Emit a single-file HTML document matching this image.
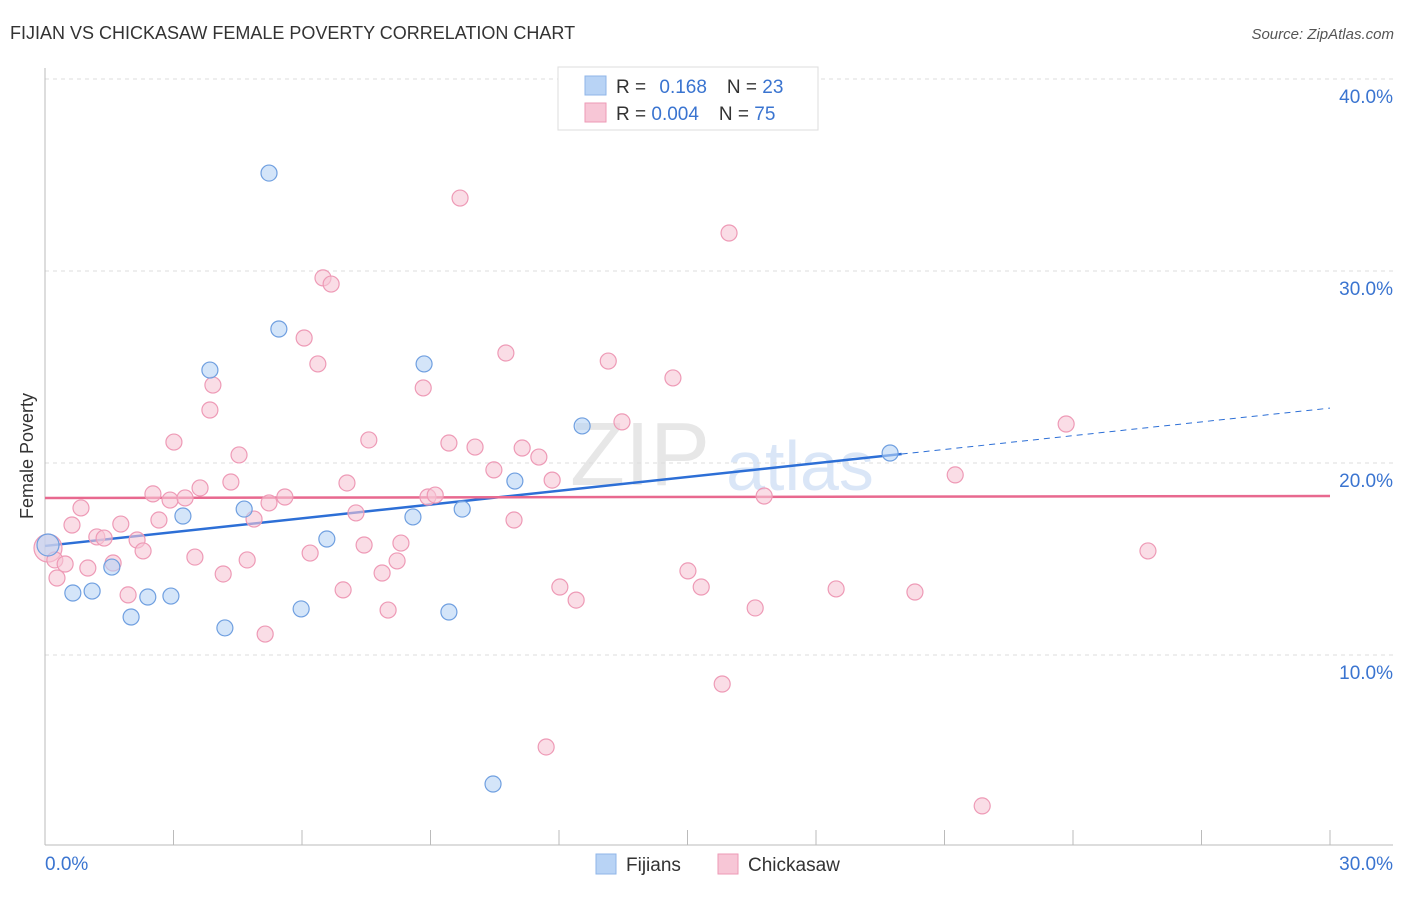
<!DOCTYPE html>
<html><head><meta charset="utf-8"><style>
body{margin:0;background:#fff;font-family:"Liberation Sans",sans-serif}
svg text{font-family:"Liberation Sans",sans-serif}
</style></head><body>
<svg id="chart" width="1406" height="892" xmlns="http://www.w3.org/2000/svg">
<text x="10" y="39" font-size="18" fill="#333">FIJIAN VS CHICKASAW FEMALE POVERTY CORRELATION CHART</text>
<text x="1394" y="39" font-size="15" fill="#555" text-anchor="end" font-style="italic">Source: ZipAtlas.com</text>
<text x="33" y="456" font-size="18" fill="#333" text-anchor="middle" transform="rotate(-90 33 456)">Female Poverty</text>
<text x="640" y="485" font-size="90" fill="#d8d8d8" font-family="Liberation Serif" opacity="0.6" text-anchor="middle">ZIP</text>
<text x="800" y="490" font-size="70" fill="#b7cff0" opacity="0.5" text-anchor="middle">atlas</text>
<g id="grid"></g><g id="axes"></g><g id="trends"></g><g id="pts"></g>
<g>
<rect x="558" y="67" width="260" height="63" fill="#fff" stroke="#ddd"/>
<rect x="585" y="76" width="21" height="19" fill="#b8d3f5" stroke="#8fb6e8"/>
<rect x="585" y="103" width="21" height="19" fill="#f7c6d6" stroke="#ee9ab6"/>
<text x="616" y="93" font-size="19" fill="#333">R = <tspan fill="#3a74d0" dx="8">0.168</tspan><tspan dx="20">N = </tspan><tspan fill="#3a74d0">23</tspan></text>
<text x="616" y="120" font-size="19" fill="#333">R = <tspan fill="#3a74d0">0.004</tspan><tspan dx="20">N = </tspan><tspan fill="#3a74d0">75</tspan></text>
</g>
<g>
<rect x="596" y="854" width="20" height="20" fill="#b8d3f5" stroke="#8fb6e8"/>
<text x="626" y="871" font-size="19" fill="#333">Fijians</text>
<rect x="718" y="854" width="20" height="20" fill="#f7c6d6" stroke="#ee9ab6"/>
<text x="748" y="871" font-size="19" fill="#333">Chickasaw</text>
</g>
</svg>
<script>
const yTicks=[10,20,30,40];
const yTickLabels=["10.0%","20.0%","30.0%","40.0%"];
const xTickLabels=["0.0%","30.0%"];
const fijX=[0.07,0.65,1.10,1.56,2.01,2.40,2.94,3.22,3.85,4.20,4.65,5.23,5.46,5.98,6.58,8.59,8.85,9.43,9.74,10.46,10.97,12.54,19.73];
const fijY=[15.73,13.23,13.33,14.58,11.98,13.02,13.07,17.24,24.84,11.41,17.60,35.10,26.98,12.40,16.04,17.19,25.16,12.24,17.60,3.28,19.06,21.93,20.52];
const chiX=[0.07,0.23,0.28,0.47,0.63,0.84,1.00,1.21,1.38,1.59,1.77,1.94,2.15,2.29,2.52,2.66,2.92,3.01,3.27,3.50,3.62,3.85,3.92,4.16,4.34,4.53,4.72,4.88,5.14,5.23,5.60,6.19,6.49,6.68,6.05,6.37,6.96,7.05,7.26,7.45,7.56,7.87,8.01,8.22,8.31,8.83,8.94,9.11,9.43,9.69,10.04,10.48,10.76,10.95,11.14,11.53,11.70,11.84,12.02,12.40,13.15,13.47,14.66,15.01,15.32,15.81,15.97,16.58,16.79,18.47,20.31,21.25,21.88,23.84,25.75];
const chiY=[15.57,14.95,14.01,14.74,16.77,17.66,14.53,16.15,16.09,14.79,16.82,13.13,15.99,15.42,18.39,17.03,18.07,21.09,18.18,15.10,18.70,22.76,24.06,14.22,19.01,20.42,14.95,17.08,11.09,17.92,18.23,15.31,29.64,29.32,26.51,25.16,13.39,18.96,17.40,15.73,21.20,14.27,12.34,14.90,15.83,23.91,18.23,18.33,21.04,33.80,20.83,19.64,25.73,17.03,20.78,20.31,5.21,19.11,13.54,12.86,25.31,22.14,24.43,14.38,13.54,8.49,31.98,12.45,18.28,13.44,13.28,19.38,2.14,22.03,15.42];
const fijTrend=[15.68,22.86]; // y at x=0 and x=30
const chiTrend=[18.18,18.28];
const fijSolidEnd=20;
const NS="http://www.w3.org/2000/svg";
const sx=v=>45+v/30*1285, sy=v=>847-v*19.2;
function mk(p,t,a){const e=document.createElementNS(NS,t);for(const k in a)e.setAttribute(k,a[k]);document.getElementById(p).appendChild(e);return e;}
yTicks.forEach((t,i)=>{
 const l=mk('grid','line',{x1:45,x2:1393,y1:sy(t),y2:sy(t),stroke:'#ddd','stroke-dasharray':'4,4'});
 
 
 const tx=mk('grid','text',{x:1393,y:sy(t)+24,'font-size':19,fill:'#3a74d0','text-anchor':'end'});
 tx.textContent=yTickLabels[i];
 
 
});
mk('axes','line',{x1:45,x2:45,y1:68,y2:845,stroke:'#bbb'});
mk('axes','line',{x1:45,x2:1393,y1:845,y2:845,stroke:'#bbb'});
for(let i=0;i<=10;i++){mk('axes','line',{x1:sx(i*3),x2:sx(i*3),y1:830,y2:845,stroke:'#bbb'});}
const xl0=mk('axes','text',{x:45,y:870,'font-size':19,fill:'#3a74d0'});xl0.textContent=xTickLabels[0];


const xl1=mk('axes','text',{x:1393,y:870,'font-size':19,fill:'#3a74d0','text-anchor':'end'});xl1.textContent=xTickLabels[1];


const fy=x=>fijTrend[0]+(fijTrend[1]-fijTrend[0])*x/30;
const t1=mk('trends','line',{x1:sx(0),y1:sy(fy(0)),x2:sx(fijSolidEnd),y2:sy(fy(fijSolidEnd)),stroke:'#2d6fd6','stroke-width':2.5});


const t2=mk('trends','line',{x1:sx(fijSolidEnd),y1:sy(fy(fijSolidEnd)),x2:sx(30),y2:sy(fy(30)),stroke:'#2d6fd6','stroke-width':1,'stroke-dasharray':'6,5'});


function dots(X,Y,fill,stroke,name){X.forEach((x,i)=>{
 const c=mk('pts','circle',{cx:sx(x),cy:sy(Y[i]),r:(i===0?(name==='chickasaw-point'?14:11):8),fill:fill,'fill-opacity':0.6,stroke:stroke,'stroke-width':1.2});
 
 
});}
dots(chiX,chiY,'#f7c6d6','#ee9ab6','chickasaw-point');
dots(fijX,fijY,'#b8d3f5','#6f9fe0','fijian-point');
const t3=mk('trends','line',{x1:sx(0),y1:sy(chiTrend[0]),x2:sx(30),y2:sy(chiTrend[1]),stroke:'#e8698f','stroke-width':2.5});


</script>
</body></html>
